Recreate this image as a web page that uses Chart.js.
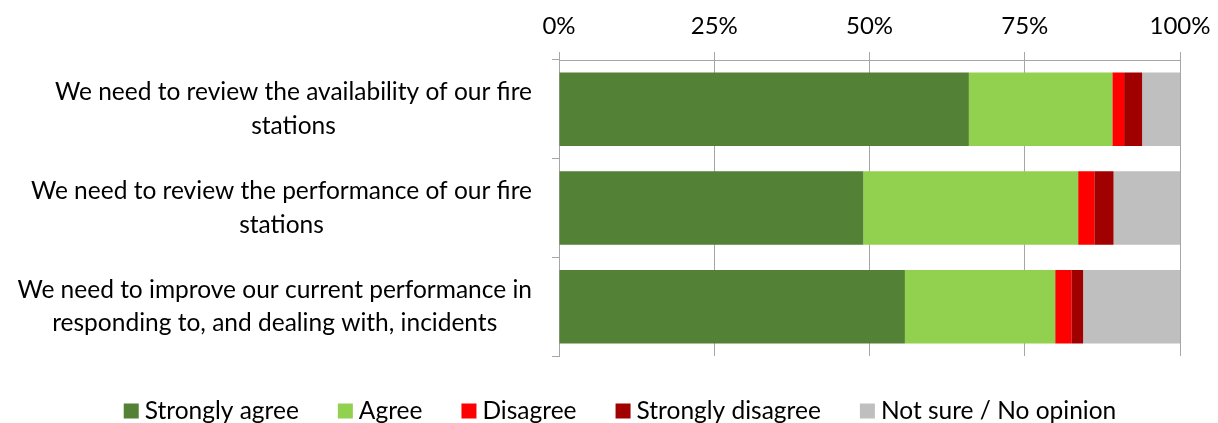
<!DOCTYPE html>
<html>
<head>
<meta charset="utf-8">
<script src="https://cdn.jsdelivr.net/npm/chart.js@4"></script>
<style>
html,body{margin:0;padding:0;background:#fff;}
#wrap{width:1218px;height:423px;position:relative;}
</style>
</head>
<body>
<div id="wrap"><canvas id="c"></canvas></div>
<script>
const categories = [
  ["We need to review the availability of our fire", "stations"],
  ["We need to review the performance of our fire", "stations"],
  ["We need to improve our current performance in", "responding to, and dealing with, incidents"]
];
const seriesNames = ["Strongly agree", "Agree", "Disagree", "Strongly disagree", "Not sure / No opinion"];
const stronglyAgree = [66.0, 49.0, 55.7];
const agree = [23.1, 34.6, 24.2];
const disagree = [1.9, 2.6, 2.6];
const stronglyDisagree = [2.9, 3.1, 1.9];
const notSure = [6.1, 10.7, 15.6];
const tickLabels = ["0%", "25%", "50%", "75%", "100%"];

const colors = ["#538135", "#92D050", "#FF0000", "#A00000", "#BFBFBF"];
const values = [stronglyAgree, agree, disagree, stronglyDisagree, notSure];

const FONT = "Lato";
Chart.defaults.font.family = FONT;
Chart.defaults.color = "#000";

// Category labels: each label's lines centred on its widest line, right edge near the axis
const catLabelPlugin = {
  id: "catLabels",
  afterDraw(chart) {
    const ctx = chart.ctx;
    const ys = chart.scales.y;
    ctx.save();
    ctx.font = "24.5px " + FONT;
    ctx.fillStyle = "#000";
    ctx.textAlign = "center";
    ctx.textBaseline = "middle";
    const rightEdge = ys.right - 27;
    const lh = 33.5;
    chart.data.labels.forEach((lab, i) => {
      const lines = Array.isArray(lab) ? lab : [lab];
      const widest = Math.max(...lines.map(l => ctx.measureText(l).width));
      const cx = rightEdge - widest / 2;
      const cy = ys.getPixelForTick(i);
      lines.forEach((l, j) => {
        ctx.fillText(l, cx, cy + (j - (lines.length - 1) / 2) * lh);
      });
    });
    ctx.restore();
  }
};

// Legend drawn at bottom, Excel-style
const legendPlugin = {
  id: "xlLegend",
  afterDraw(chart) {
    const ctx = chart.ctx;
    ctx.save();
    ctx.font = "24.5px " + FONT;
    ctx.textBaseline = "middle";
    ctx.textAlign = "left";
    const box = 15, gap = 6, itemGap = 39;
    const items = chart.data.datasets.map(d => ({ t: d.label, c: d.backgroundColor, w: ctx.measureText(d.label).width }));
    const total = items.reduce((s, it) => s + box + gap + it.w, 0) + itemGap * (items.length - 1);
    let x = 620 - total / 2;
    const cy = 411;
    items.forEach(it => {
      ctx.fillStyle = it.c;
      ctx.fillRect(x, cy - box / 2, box, box);
      ctx.fillStyle = "#000";
      ctx.fillText(it.t, x + box + gap, cy);
      x += box + gap + it.w + itemGap;
    });
    ctx.restore();
  }
};

new Chart(document.getElementById("c"), {
  type: "bar",
  data: {
    labels: categories,
    datasets: seriesNames.map((n, i) => ({
      label: n,
      data: values[i],
      backgroundColor: colors[i],
      borderWidth: 0,
      barPercentage: 0.745,
      categoryPercentage: 1.0
    }))
  },
  options: {
    indexAxis: "y",
    responsive: true,
    maintainAspectRatio: false,
    animation: false,
    layout: { padding: { left: 0, right: 38, top: 8, bottom: 67 } },
    plugins: {
      tooltip: { enabled: false },
      legend: { display: false }
    },
    scales: {
      x: {
        position: "top",
        stacked: true,
        min: 0, max: 100,
        ticks: {
          stepSize: 25,
          callback: (v) => tickLabels[v / 25],
          font: { size: 24 },
          padding: 11,
          color: "#000"
        },
        grid: { color: "#a6a6a6", lineWidth: 1, tickLength: 8, drawTicks: true },
        border: { color: "#a6a6a6" },
        afterFit: (s) => { s.height = 52; s.paddingLeft = 0; s.paddingRight = 0; }
      },
      y: {
        stacked: true,
        ticks: { display: false },
        grid: { drawOnChartArea: false, offset: true, color: "#a6a6a6", tickLength: 7 },
        border: { color: "#a6a6a6" },
        afterFit: (s) => { s.width = 559; }
      }
    }
  },
  plugins: [catLabelPlugin, legendPlugin]
});
</script>
</body>
</html>
